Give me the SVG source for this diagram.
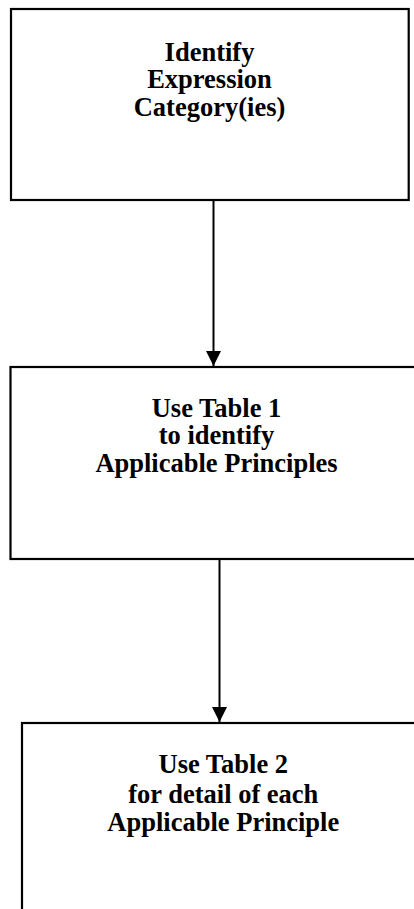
<svg xmlns="http://www.w3.org/2000/svg" width="414" height="909" viewBox="0 0 414 909">
  <style>
    .box { fill: #ffffff; stroke: #000000; stroke-width: 2.2; }
    .lbl { font-family: "Liberation Serif", "Times New Roman", serif; font-weight: bold; font-size: 26.5px; fill: #000000; text-anchor: middle; }
    .conn { stroke: #000000; stroke-width: 2; fill: none; }
  </style>
  <defs>
    <marker id="arrow" markerUnits="userSpaceOnUse" markerWidth="16" markerHeight="16" refX="15" refY="7.5" orient="auto">
      <path d="M0,0 L15,7.5 L0,15 z" fill="#000000"/>
    </marker>
  </defs>
  <rect width="414" height="909" fill="#ffffff"/>
  <g id="node1">
    <rect class="box" x="11" y="9" width="397.7" height="191"/>
    <text class="lbl" x="209.5" y="61">Identify</text>
    <text class="lbl" x="209.5" y="88">Expression</text>
    <text class="lbl" x="209.5" y="116">Category(ies)</text>
  </g>
  <g id="node2">
    <rect class="box" x="10.5" y="367" width="416" height="192"/>
    <text class="lbl" x="216.5" y="417">Use Table 1</text>
    <text class="lbl" x="216.5" y="444">to identify</text>
    <text class="lbl" x="216.5" y="472">Applicable Principles</text>
  </g>
  <g id="node3">
    <rect class="box" x="22" y="723" width="406" height="200"/>
    <text class="lbl" x="223.3" y="773">Use Table 2</text>
    <text class="lbl" x="223.3" y="802.5">for detail of each</text>
    <text class="lbl" x="223.3" y="830.5">Applicable Principle</text>
  </g>
  <g id="connectors">
    <line class="conn" x1="213.5" y1="201" x2="213.5" y2="366" marker-end="url(#arrow)"/>
    <line class="conn" x1="219.5" y1="560" x2="219.5" y2="722" marker-end="url(#arrow)"/>
  </g>
</svg>
